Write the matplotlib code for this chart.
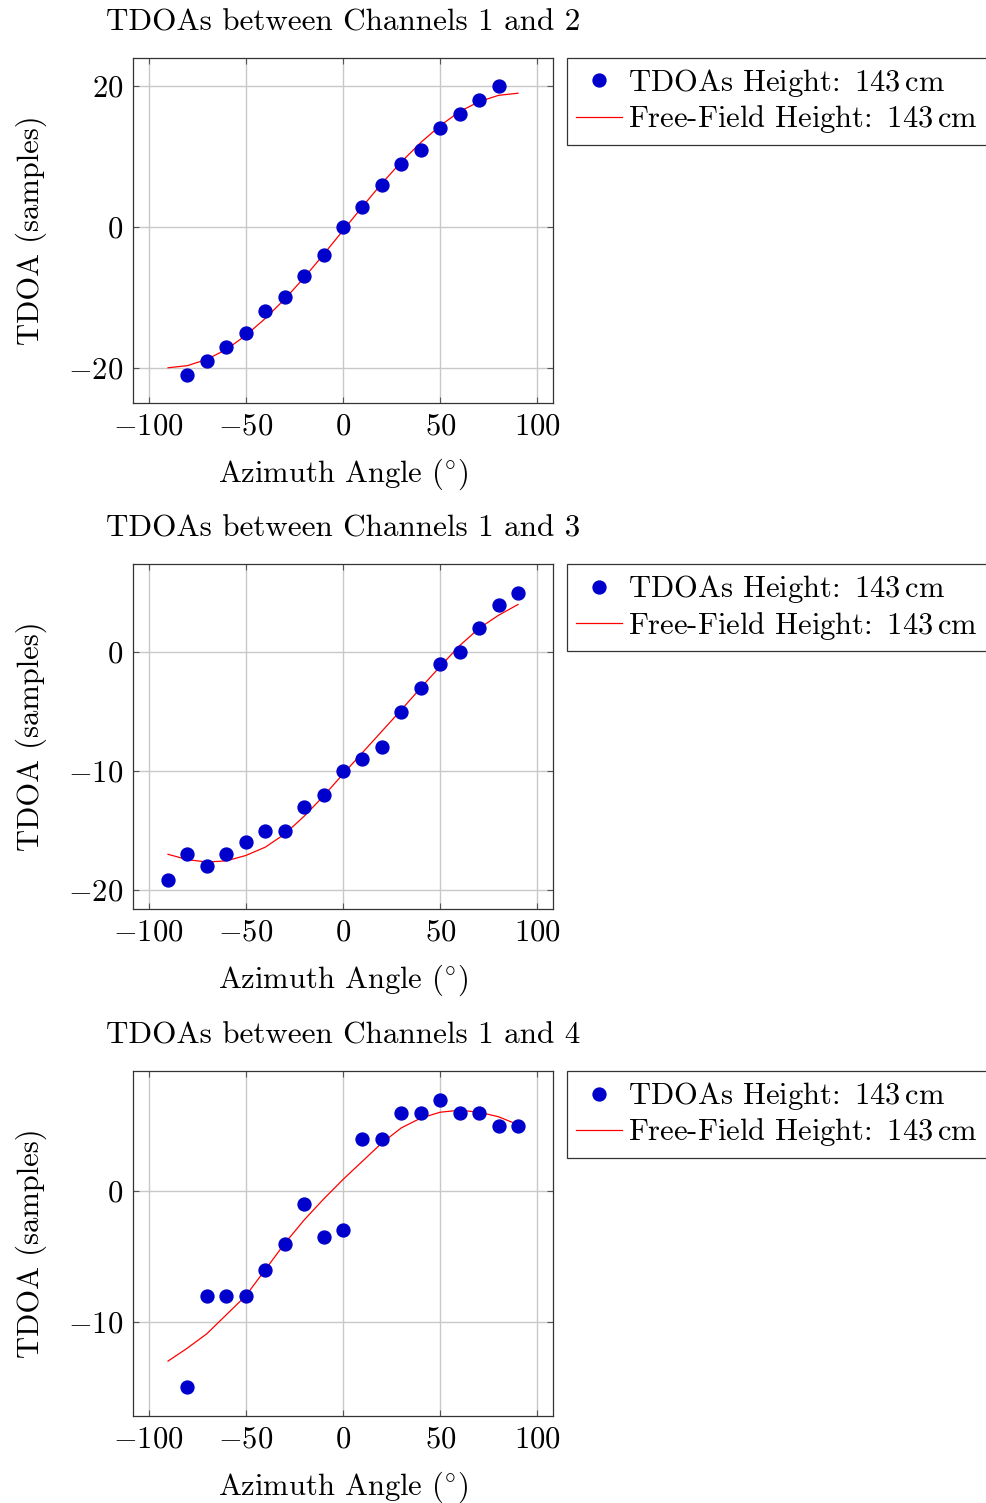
import numpy as np
import matplotlib
matplotlib.use('Agg')
import matplotlib.pyplot as plt

plt.rcParams['font.family'] = ['cmr10', 'DejaVu Serif']
plt.rcParams['mathtext.fontset'] = 'cm'
plt.rcParams['axes.formatter.use_mathtext'] = True
plt.rcParams['axes.unicode_minus'] = True
plt.rcParams['font.size'] = 22

# 测量点的方位角和TDOA
az_12 = [-80, -70, -60, -50, -40, -30, -20, -10, 0, 10, 20, 30, 40, 50, 60, 70, 80]
tdoa_12 = [-21, -19, -17, -15, -12, -10, -7, -4, 0, 2.8, 6, 9, 11, 14, 16, 18, 20]

az_13 = [-90, -80, -70, -60, -50, -40, -30, -20, -10, 0, 10, 20, 30, 40, 50, 60, 70, 80, 90]
tdoa_13 = [-19.2, -17, -18, -17, -16, -15, -15, -13, -12, -10, -9, -8, -5, -3, -1, 0, 2, 4, 5]

az_14 = [-80, -70, -60, -50, -40, -30, -20, -10, 0, 10, 20, 30, 40, 50, 60, 70, 80, 90]
tdoa_14 = [-15, -8, -8, -8, -6, -4, -1, -3.5, -3, 4, 4, 6, 6, 7, 6, 6, 5, 5]

# 自由场模型曲线
az_ff = [-90, -80, -70, -60, -50, -40, -30, -20, -10, 0, 10, 20, 30, 40, 50, 60, 70, 80, 90]
ff_12 = [-20.0, -19.7, -18.8, -17.4, -15.4, -13.0, -10.25, -7.2, -3.9, -0.5,
         2.9, 6.2, 9.25, 12.0, 14.4, 16.4, 17.8, 18.7, 19.0]
ff_13 = [-17.0, -17.45, -17.65, -17.55, -17.1, -16.4, -15.3, -13.8, -12.1, -10.25,
         -8.45, -6.65, -4.85, -3.0, -1.2, 0.55, 2.0, 3.1, 4.0]
ff_14 = [-13.0, -12.0, -10.9, -9.45, -8.0, -6.0, -4.0, -2.2, -0.6, 0.9,
         2.3, 3.7, 4.85, 5.6, 6.05, 6.2, 6.05, 5.7, 5.1]

panels = [
    ('TDOAs between Channels 1 and 2', az_12, tdoa_12, ff_12, (-25, 24), [-20, 0, 20]),
    ('TDOAs between Channels 1 and 3', az_13, tdoa_13, ff_13, (-21.6, 7.4), [-20, -10, 0]),
    ('TDOAs between Channels 1 and 4', az_14, tdoa_14, ff_14, (-17.2, 9.2), [-10, 0]),
]

fig = plt.figure(figsize=(9.87, 15.03), dpi=100)
bottoms = [0.7319, 0.3952, 0.0579]

for (title, az, tdoa, ff, ylim, yticks), b in zip(panels, bottoms):
    ax = fig.add_axes([0.1348, b, 0.4255, 0.2295])
    ax.plot(az, tdoa, 'o', color='#0000cc', markersize=9.3,
            label=r'TDOAs Height:$\,$ 143$\,$cm', zorder=3)
    ax.plot(az_ff, ff, '-', color='red', linewidth=0.9,
            label=r'Free-Field Height:$\,$ 143$\,$cm', zorder=2)
    ax.set_xlim(-108, 108)
    ax.set_ylim(*ylim)
    ax.set_xticks([-100, -50, 0, 50, 100])
    ax.set_yticks(yticks)
    ax.grid(True, color='#c8c8c8', linewidth=1.0)
    ax.set_axisbelow(True)
    ax.tick_params(direction='in', length=4.5, width=0.8, color='#555555',
                   top=True, right=True, pad=7)
    for s in ax.spines.values():
        s.set_linewidth(0.9)
        s.set_color('#333333')
    ax.set_title(title, fontsize=22.4, pad=20)
    ax.set_xlabel(r'Azimuth Angle $(^{\circ})$', labelpad=11.5)
    ax.set_ylabel('TDOA (samples)', labelpad=15)
    leg = ax.legend(loc='upper left', bbox_to_anchor=(1.033, 1.0),
                    fancybox=False, edgecolor='#333333', framealpha=1,
                    fontsize=22, handlelength=1.5, handletextpad=0.2,
                    borderpad=0.3, labelspacing=0.14, borderaxespad=0.0)
    leg.get_frame().set_linewidth(0.9)

fig.savefig('out.png', dpi=100)
